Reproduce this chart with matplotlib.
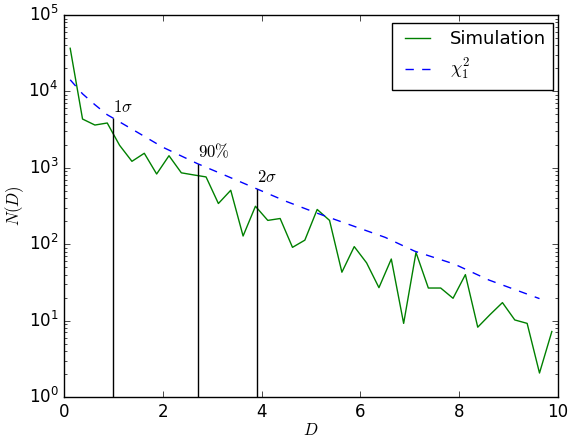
import numpy as np
import matplotlib
matplotlib.use('Agg')
import matplotlib.pyplot as plt

plt.style.use('classic')

# simulated histogram, bin width 0.25
sim_d = np.arange(0.125, 10.0, 0.25)
sim_counts = [36700, 4350, 3630, 3860, 1970, 1216, 1550, 830, 1440, 860,
              807, 760, 341, 508, 128, 314, 205, 217, 91, 113,
              285, 205, 43, 93, 57, 27, 64, 9.2, 78, 26.7,
              26.7, 19.6, 40, 8.2, 12, 17.2, 10.2, 9.2, 2.06, 7.2]

# chi-squared (1 dof) expectation
chi_d = [0.125, 0.375, 0.625, 0.875, 1.0, 1.5, 2.0, 2.7, 3.3, 3.9,
         4.5, 5.1, 5.9, 6.5, 7.1, 7.9, 8.6, 9.625]
chi_counts = [14200, 9300, 6700, 4950, 4450, 2880, 1860, 1135, 778, 531,
              363, 258, 169, 123, 81, 55, 34, 19.4]

# confidence markers
mark_d = [1.0, 2.706, 3.9]
mark_top = [4450, 1135, 531]
mark_labels = [r'$1\sigma$', r'$90\%$', r'$2\sigma$']

fig = plt.figure(figsize=(5.69, 4.38), dpi=100, facecolor='white')
ax = fig.add_axes([0.1125, 0.0936, 0.8682, 0.8721])

ax.plot(sim_d, sim_counts, 'g-', linewidth=1, label='Simulation')
ax.plot(chi_d, chi_counts, 'b--', linewidth=1, label=r'$\chi^2_1$')

ax.vlines(mark_d, 1, mark_top, color='k', linewidth=1)
for d, top, lab in zip(mark_d, mark_top, mark_labels):
    ax.annotate(lab, (d, top), xytext=(0, 2), textcoords='offset points',
                ha='left', va='bottom', fontsize=12)

ax.set_yscale('log')
ax.set_xlim(0, 10)
ax.set_ylim(1, 1e5)
ax.set_xlabel(r'$D$', labelpad=0)
ax.set_ylabel(r'$N(D)$', labelpad=1.5)
ax.legend(loc='upper right', bbox_to_anchor=(0.99, 0.979), borderaxespad=0,
          fontsize=13)

fig.savefig('out.png', dpi=100, facecolor='white')
